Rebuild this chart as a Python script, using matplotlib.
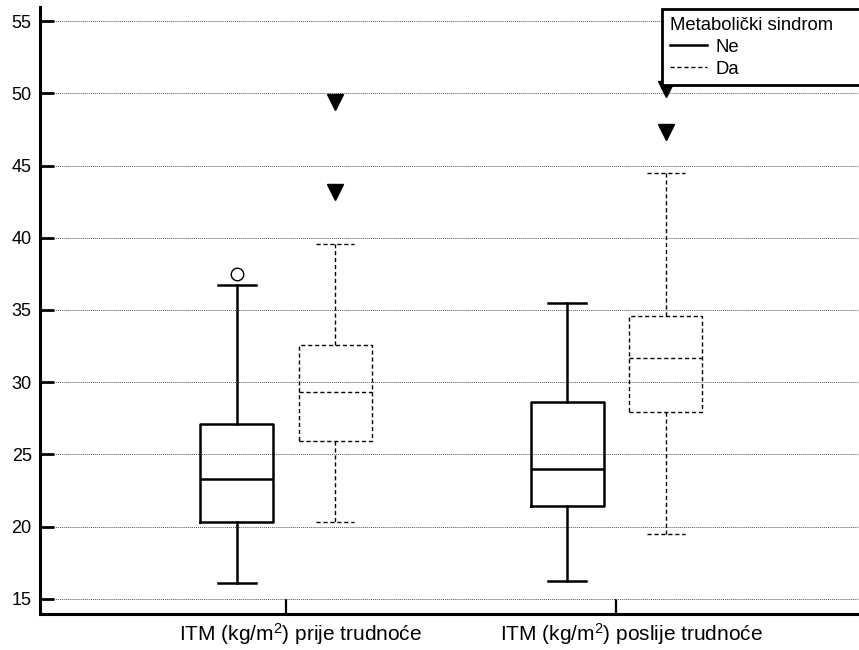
import matplotlib.pyplot as plt
import matplotlib.transforms as mtransforms
from matplotlib.lines import Line2D
from matplotlib.patches import Rectangle

plt.rcParams["font.family"] = ["Liberation Sans", "DejaVu Sans"]
plt.rcParams["mathtext.fontset"] = "custom"
plt.rcParams["mathtext.rm"] = "Liberation Sans"
plt.rcParams["mathtext.it"] = "Liberation Sans"

categories = [r"ITM (kg/m$^2$) prije trudnoće", r"ITM (kg/m$^2$) poslije trudnoće"]

# Metabolički sindrom: Ne
ne_whislo = [16.1, 16.25]
ne_q1 = [20.3, 21.45]
ne_med = [23.3, 24.0]
ne_q3 = [27.1, 28.6]
ne_whishi = [36.7, 35.5]
ne_out = [[37.5], []]

# Metabolički sindrom: Da
da_whislo = [20.3, 19.5]
da_q1 = [25.9, 27.95]
da_med = [29.33, 31.7]
da_q3 = [32.6, 34.6]
da_whishi = [39.6, 44.5]
da_out = [[49.4, 43.2], [50.3, 47.3]]


def stats(lo, q1, med, q3, hi, out):
    return [dict(whislo=a, q1=b, med=c, q3=d, whishi=e, fliers=f)
            for a, b, c, d, e, f in zip(lo, q1, med, q3, hi, out)]


fig = plt.figure(figsize=(8.59, 6.5), dpi=100)
ax = fig.add_axes([40 / 859, 36 / 650, 819 / 859, 607 / 650])

pos = [1, 2]
off = 0.149
w = 0.22

solid = dict(color="black", linewidth=1.8)
ax.bxp(stats(ne_whislo, ne_q1, ne_med, ne_q3, ne_whishi, ne_out),
       positions=[p - off for p in pos], widths=w, capwidths=0.115,
       boxprops=solid, whiskerprops=solid, capprops=solid, medianprops=solid,
       flierprops=dict(marker="o", markerfacecolor="white", markeredgecolor="black",
                       markersize=9, markeredgewidth=1.0),
       manage_ticks=False)

dashed = dict(color="black", linewidth=1.0, linestyle=(0, (3, 2)))
ax.bxp(stats(da_whislo, da_q1, da_med, da_q3, da_whishi, da_out),
       positions=[p + off for p in pos], widths=w, capwidths=0.115,
       boxprops=dashed, whiskerprops=dashed, capprops=dashed, medianprops=dashed,
       flierprops=dict(marker="v", markerfacecolor="black", markeredgecolor="black",
                       markersize=11, linestyle="none"),
       manage_ticks=False)

ax.set_xlim(0.256, 2.734)
ax.set_ylim(13.96, 55.97)
ax.set_xticks(pos)
ax.set_xticklabels(categories, fontsize=15)
ax.set_yticks(range(15, 56, 5))
ax.tick_params(axis="y", direction="in", length=10, width=2, labelsize=13, pad=6)
ax.tick_params(axis="x", direction="in", length=11, width=1.6, pad=5)

# labels sit a little right of their ticks in the original
shift = mtransforms.ScaledTranslation(15 / 100, 0, fig.dpi_scale_trans)
for lbl in ax.get_xticklabels():
    lbl.set_transform(lbl.get_transform() + shift)

ax.yaxis.grid(True, linestyle=(0, (1, 1)), linewidth=0.7, color="#555555")
ax.set_axisbelow(True)

for s in ["top", "right"]:
    ax.spines[s].set_visible(False)
for s in ["left", "bottom"]:
    ax.spines[s].set_linewidth(2.2)

# legend box runs past the right edge of the figure in the original
fig.add_artist(Rectangle((662 / 859, 1 - 85 / 650), 230 / 859, 76 / 650,
                         transform=fig.transFigure, facecolor="white",
                         edgecolor="black", linewidth=2, zorder=4))

handles = [Line2D([], [], color="black", linewidth=1.8),
           Line2D([], [], color="black", linewidth=1.0, linestyle=(0, (3, 2)))]
leg = fig.legend(handles, ["Ne", "Da"], title="Metabolički sindrom",
                 loc="upper left", bbox_to_anchor=(662 / 859, 1 - 9 / 650),
                 fontsize=13.3, title_fontsize=13.3, alignment="left",
                 frameon=False, handlelength=2.0, handletextpad=0.45,
                 borderpad=0.45, labelspacing=0.25, borderaxespad=0)

fig.savefig("out.png", dpi=100)
